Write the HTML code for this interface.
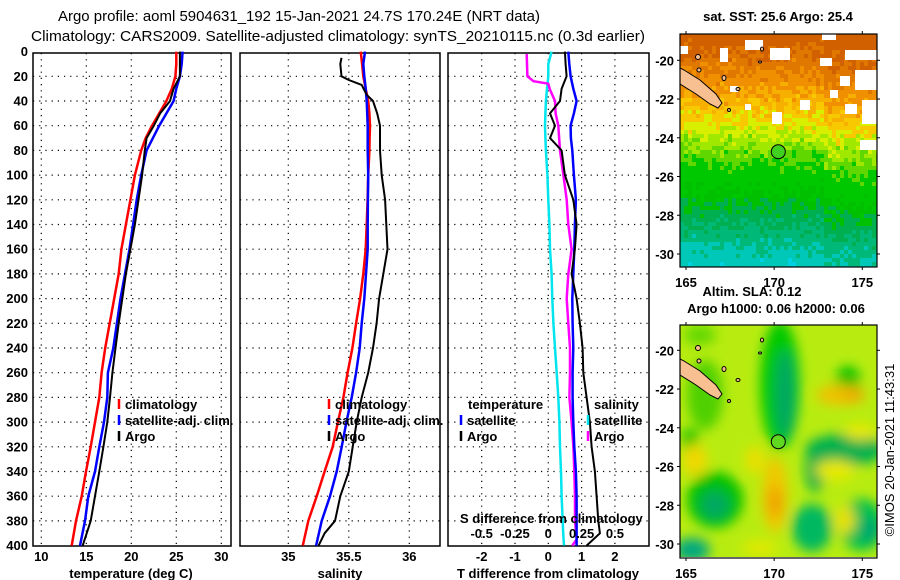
<!DOCTYPE html>
<html><head><meta charset="utf-8"><style>
html,body{margin:0;padding:0;background:#fff;}
svg{display:block;font-family:"Liberation Sans",sans-serif;}
.t{font-size:13px;font-weight:bold;fill:#000;}
.ttl{font-size:14.5px;fill:#000;}
</style></head><body>
<svg id="chart" width="900" height="580" viewBox="0 0 900 580" xmlns="http://www.w3.org/2000/svg">
<defs>
<clipPath id="m1c"><rect x="680" y="34" width="197" height="233"/></clipPath>
<clipPath id="m2c"><rect x="680" y="325" width="197" height="232"/></clipPath>
<filter id="bl" x="-50%" y="-50%" width="200%" height="200%"><feGaussianBlur stdDeviation="6"/></filter>
</defs>
<text class="ttl" x="58" y="21" textLength="482" lengthAdjust="spacingAndGlyphs">Argo profile: aoml 5904631_192 15-Jan-2021 24.7S 170.24E (NRT data)</text>
<text class="ttl" x="31" y="41" textLength="614" lengthAdjust="spacingAndGlyphs">Climatology: CARS2009. Satellite-adjusted climatology: synTS_20210115.nc (0.3d earlier)</text>
<g id="panels"></g>
<g id="maps"></g>
<text class="t" transform="translate(894,450) rotate(-90)" text-anchor="middle" style="font-weight:normal;font-size:13px">©IMOS 20-Jan-2021 11:43:31</text>
</svg>
<script>
// ---- data ----
const depths = [0,10,20,30,40,50,60,70,80,100,120,140,160,180,200,220,240,260,280,300,320,340,360,380,400];
const tempClim = [25.0,25.0,24.9,24.5,23.9,23.1,22.3,21.6,21.1,20.4,19.9,19.4,18.9,18.6,18.1,17.6,17.1,16.7,16.45,15.97,15.49,14.97,14.49,13.86,13.38];
const tempSat  = [25.7,25.6,25.4,25.0,24.7,23.9,23.1,22.4,21.7,21.1,20.6,20.2,19.8,19.3,18.8,18.4,18.0,17.4,17.33,16.97,16.44,15.97,15.22,14.86,14.3];
const tempArgo = [25.4,25.4,25.4,24.7,24.3,23.2,22.5,21.7,21.5,21.2,20.8,20.4,19.9,19.4,19.0,18.6,18.25,17.9,17.63,17.33,16.9,16.44,15.97,15.49,14.6];
const salClim = [35.598,35.61,35.62,35.64,35.66,35.67,35.675,35.672,35.67,35.66,35.655,35.648,35.64,35.62,35.593,35.56,35.53,35.49,35.455,35.41,35.367,35.30,35.235,35.165,35.12];
const salSat  = [35.634,35.62,35.628,35.64,35.648,35.652,35.656,35.656,35.656,35.66,35.658,35.656,35.656,35.642,35.628,35.607,35.59,35.56,35.524,35.48,35.441,35.40,35.345,35.276,35.23];
const salArgoDepths = [5,10,20,23,27,35,40,50,60,80,100,120,140,160,180,200,220,240,260,280,300,320,340,360,380,390,400];
const salArgo = [35.44,35.43,35.44,35.50,35.607,35.648,35.70,35.735,35.758,35.758,35.772,35.80,35.81,35.82,35.785,35.75,35.73,35.70,35.66,35.607,35.565,35.532,35.50,35.43,35.386,35.30,35.25];
const diffDepths = [0,10,20,30,40,50,60,70,80,100,120,140,160,180,200,220,240,260,280,300,320,340,360,380,390,400];
const dTSat  = [0.6,0.63,0.67,0.75,0.85,0.77,0.67,0.68,0.72,0.77,0.83,0.8,0.78,0.75,0.72,0.73,0.75,0.73,0.73,0.75,0.78,0.83,0.85,0.85,0.85,0.85];
const dTArgo = [0.5,0.52,0.55,0.4,0.35,0.05,0.2,0.05,0.4,0.5,0.75,0.85,0.8,0.7,0.85,0.95,1.03,1.05,1.15,1.25,1.3,1.4,1.45,1.5,1.55,1.15];
const dSSat  = [0.025,0.0,0.0,-0.01,-0.018,-0.022,-0.025,-0.022,-0.018,-0.007,0.0,0.008,0.013,0.025,0.03,0.038,0.05,0.063,0.075,0.083,0.088,0.095,0.1,0.108,0.112,0.118];
const dSArgoDepths = [2,20,24,26,30,40,50,60,80,100,120,140,160,170,180,200,220,240,260,280,300,320,340,360,380,395,400];
const dSArgo = [-0.162,-0.157,-0.112,0.0,0.01,0.05,0.055,0.075,0.088,0.113,0.138,0.15,0.175,0.163,0.15,0.138,0.15,0.163,0.163,0.158,0.175,0.188,0.195,0.2,0.2,0.213,0.18];
const depthTicks = [0,20,40,60,80,100,120,140,160,180,200,220,240,260,280,300,320,340,360,380,400];
const tTicks = [10,15,20,25,30];
const sTicks = [35,35.5,36];
const dTTicks = [-2,-1,0,1,2];
const dSTicks = [-0.5,-0.25,0,0.25,0.5];
const latTicks = [-20,-22,-24,-26,-28,-30];
const lonTicks = [165,170,175];

const NS='http://www.w3.org/2000/svg';
function mk(tag, attrs, parent){const e=document.createElementNS(NS,tag);for(const k in attrs)e.setAttribute(k,attrs[k]);parent.appendChild(e);return e;}
const Y = d => 51.6 + d*1.235;
const xT = v => 41.3 + (v-10)*9;
const xS = v => 288.3 + (v-35)*121;
const xDT = v => 548.3 + v*33.3;
const xDS = v => 548.3 + v*133.3;
const P = document.getElementById('panels');

function panel(x0,x1,name,xTicksArr,xf,fmt,showDepth){
  const g=mk('g',{},P);
  
  
  depthTicks.forEach(d=>{ if(d===0||d===400) return;
    const l=mk('line',{x1:x0,x2:x1,y1:Y(d),y2:Y(d),stroke:'#000','stroke-width':1.2,'stroke-dasharray':'1.2 5'},g);
    
    
  });
  xTicksArr.forEach(v=>{
    const l=mk('line',{x1:xf(v),x2:xf(v),y1:53,y2:546,stroke:'#000','stroke-width':1.2,'stroke-dasharray':'1.2 5'},g);
    
    
    if(fmt){
      const t=mk('text',{x:xf(v),y:561,'text-anchor':'middle',class:'t'},g);
      t.textContent=fmt(v);
      
      
    }
  });
  const r=mk('rect',{x:x0,y:53,width:x1-x0,height:493,fill:'none',stroke:'#000','stroke-width':1.5},g);
  
  
  if(showDepth){
    depthTicks.forEach(d=>{
      const t=mk('text',{x:28,y:Y(d)+4.5,'text-anchor':'end',class:'t'},g);
      t.textContent=d;
      
      
    });
  }
  return g;
}
function line(g,xs,ds,xf,color,w,name){
  const pts=xs.map((v,i)=>xf(v).toFixed(1)+','+Y(ds[i]).toFixed(1)).join(' ');
  const p=mk('polyline',{points:pts,fill:'none',stroke:color,'stroke-width':w,'stroke-linejoin':'round'},g);
  
  
}
function legendItem(g,x,y,color,label,name){
  const m=mk('line',{x1:x,x2:x,y1:y-10,y2:y,stroke:color,'stroke-width':2.5},g);
  
  
  const t=mk('text',{x:x+6,y:y,class:'t'},g);
  t.textContent=label;
  
  
}

const g1=panel(33,231,'temperature-panel',tTicks,xT,v=>String(v),true);
line(g1,tempClim,depths,xT,'#ff0000',2.5,'temp-climatology-line');
line(g1,tempSat,depths,xT,'#0000ff',2.5,'temp-satellite-line');
line(g1,tempArgo,depths,xT,'#000000',2,'temp-argo-line');
legendItem(g1,119,409,'#ff0000','climatology','legend-climatology');
legendItem(g1,119,425,'#0000ff','satellite-adj. clim.','legend-satellite');
legendItem(g1,119,441,'#000000','Argo','legend-argo');
let t=mk('text',{x:131,y:578,'text-anchor':'middle',class:'t'},g1);t.textContent='temperature (deg C)';



const g2=panel(240,440,'salinity-panel',sTicks,xS,v=>String(v),false);
line(g2,salClim,depths,xS,'#ff0000',2.5,'sal-climatology-line');
line(g2,salSat,depths,xS,'#0000ff',2.5,'sal-satellite-line');
line(g2,salArgo,salArgoDepths,xS,'#000000',2,'sal-argo-line');
legendItem(g2,329,409,'#ff0000','climatology','legend-climatology');
legendItem(g2,329,425,'#0000ff','satellite-adj. clim.','legend-satellite');
legendItem(g2,329,441,'#000000','Argo','legend-argo');
t=mk('text',{x:340,y:578,'text-anchor':'middle',class:'t'},g2);t.textContent='salinity';



const g3=panel(448,649,'difference-panel',dTTicks,xDT,v=>String(v),false);
line(g3,dSSat,diffDepths,xDS,'#00e5ee',2.5,'sal-diff-satellite-line');
line(g3,dSArgo,dSArgoDepths,xDS,'#ff00ff',2.5,'sal-diff-argo-line');
line(g3,dTSat,diffDepths,xDT,'#0000ff',2.5,'temp-diff-satellite-line');
line(g3,dTArgo,diffDepths,xDT,'#000000',2,'temp-diff-argo-line');
dSTicks.forEach(v=>{
  const tt=mk('text',{x:xDS(v),y:538,'text-anchor':'middle',class:'t'},g3);
  tt.textContent=String(v);
  
  
});
t=mk('text',{x:460,y:523,class:'t'},g3);t.textContent='S difference from climatology';


t=mk('text',{x:548,y:578,'text-anchor':'middle',class:'t'},g3);t.textContent='T difference from climatology';


t=mk('text',{x:468,y:409,class:'t'},g3);t.textContent='temperature';


t=mk('text',{x:594,y:409,class:'t'},g3);t.textContent='salinity';


legendItem(g3,461,425,'#0000ff','satellite','legend-temp-satellite');
legendItem(g3,461,441,'#000000','Argo','legend-temp-argo');
legendItem(g3,588,425,'#00e5ee','satellite','legend-sal-satellite');
legendItem(g3,588,441,'#ff00ff','Argo','legend-sal-argo');

// ---- maps ----
const M=document.getElementById('maps');
function mapFrame(g,y0,latY0,name){
  const r=mk('rect',{x:680,y:y0,width:197,height:233,fill:'none',stroke:'#000','stroke-width':1.2},g);
  
  
  latTicks.forEach(la=>{
    const yy=latY0+(-20-la)*19.37;
    mk('line',{x1:677,x2:680,y1:yy,y2:yy,stroke:'#000'},g);
    mk('line',{x1:877,x2:880,y1:yy,y2:yy,stroke:'#000'},g);
    const tt=mk('text',{x:674,y:yy+5,'text-anchor':'end',class:'t'},g);
    tt.textContent=String(la);
    
    
  });
  lonTicks.forEach(lo=>{
    const xx=686+(lo-165)*17.63;
    mk('line',{x1:xx,x2:xx,y1:y0-3,y2:y0,stroke:'#000'},g);
    mk('line',{x1:xx,x2:xx,y1:y0+233,y2:y0+236,stroke:'#000'},g);
    const tt=mk('text',{x:xx,y:y0+253,'text-anchor':'middle',class:'t'},g);
    tt.textContent=String(lo);
    
    
  });
}
function land(g,dy){
  const p=mk('path',{d:`M680,${68+dy} L684,${70+dy} L700,${80+dy} L716,${94+dy} L722,${103+dy} L718,${108+dy} L710,${104+dy} L696,${94+dy} L680,${84+dy} Z`,fill:'#f8c090',stroke:'#000','stroke-width':1},g);
  
  
  [[699,70,2,2],[724,78,2,2.5],[738,89,2,1.5],[698,57,2.5,2.5],[762,49,1.5,2],[760,62,1.5,1],[729,110,1.5,1.5]].forEach(c=>{
    mk('ellipse',{cx:c[0],cy:c[1]+dy,rx:c[2],ry:c[3],fill:'#f8c090',stroke:'#000','stroke-width':1},g);
  });
}
const g4=mk('g',{'clip-path':'url(#m1c)'},M);


function hsh(i,j){let h=(i*374761393+j*668265263)|0;h=(h^(h>>>13))*1274126177|0;return ((h^(h>>>16))>>>0)/4294967296;}
const bands=[[34,'#d06000'],[50,'#e07800'],[70,'#f09000'],[90,'#f8b000'],[105,'#f8c800'],[118,'#d8f000'],[132,'#a0e800'],[145,'#60d800'],[160,'#00c800'],[190,'#00c000'],[205,'#00b050'],[225,'#00b878'],[245,'#00c8b8'],[270,'#00d0e0']];
function bandCol(y){let c=bands[0][1];for(const b of bands){if(y>=b[0])c=b[1];}return c;}
for(let i=0;i<50;i++){for(let j=0;j<59;j++){
  const x=680+i*4,y=34+j*4;
  let yy=y+(hsh(i,j)-0.5)*26;
  if(x>820) yy-=12;
  mk('rect',{x:x,y:y,width:4.2,height:4.2,fill:bandCol(yy)},g4);
}}
[[680,46,8,8],[720,48,8,14],[745,40,18,10],[770,48,20,12],[822,34,14,6],[820,58,12,8],[845,50,32,10],[855,70,22,20],[840,76,10,10],[862,100,15,24],[845,104,12,10],[800,100,10,10],[772,112,10,12],[860,140,17,10],[745,104,6,6],[730,86,8,6],[830,90,8,8]].forEach(r=>{
  mk('rect',{x:r[0],y:r[1],width:r[2],height:r[3],fill:'#ffffff'},g4);
});
land(g4,0);
let c1=mk('circle',{cx:778.3,cy:151.7,r:7,fill:'#40d020',stroke:'#000','stroke-width':1},g4);


mapFrame(M,34,60.3,'sst-map');
t=mk('text',{x:778,y:21,'text-anchor':'middle',class:'t'},M);t.textContent='sat. SST: 25.6 Argo: 25.4';


t=mk('text',{x:752,y:296,'text-anchor':'middle',class:'t'},M);t.textContent='Altim. SLA: 0.12';


t=mk('text',{x:776,y:313,'text-anchor':'middle',class:'t'},M);t.textContent='Argo h1000: 0.06 h2000: 0.06';



const g5=mk('g',{'clip-path':'url(#m2c)'},M);


mk('rect',{x:680,y:325,width:197,height:233,fill:'#b8ec10'},g5);
const gb=mk('g',{filter:'url(#bl)'},g5);
[[780,385,20,65,'#00c800'],[785,395,10,45,'#00a860'],[705,395,18,35,'#50d000'],[845,450,40,16,'#00b050'],[815,470,10,22,'#00b050'],[715,500,28,28,'#00c000'],[715,505,14,14,'#00a860'],[812,528,20,24,'#00b860'],[862,525,22,26,'#00c050'],[870,530,10,12,'#00a870'],[692,550,18,12,'#00a880'],[848,380,12,14,'#00c000'],[690,440,8,12,'#00c000'],[700,335,16,10,'#60d800'],[840,395,24,10,'#f0c000'],[855,395,10,7,'#f0a800'],[775,495,13,38,'#f0c800'],[775,502,7,16,'#f0a000'],[695,460,12,16,'#f0d800'],[860,432,16,8,'#e8e800'],[835,470,20,10,'#e8e800'],[845,520,10,14,'#e8e000'],[760,548,18,8,'#e0e800'],[755,460,10,14,'#e8e000']].forEach(b=>{
  mk('ellipse',{cx:b[0],cy:b[1],rx:b[2],ry:b[3],fill:b[4]},gb);
});
land(g5,291);
let c2=mk('circle',{cx:778.3,cy:441.7,r:7,fill:'#60d820',stroke:'#000','stroke-width':1},g5);


mapFrame(M,325,350.3,'sla-map');
</script>
</body></html>
